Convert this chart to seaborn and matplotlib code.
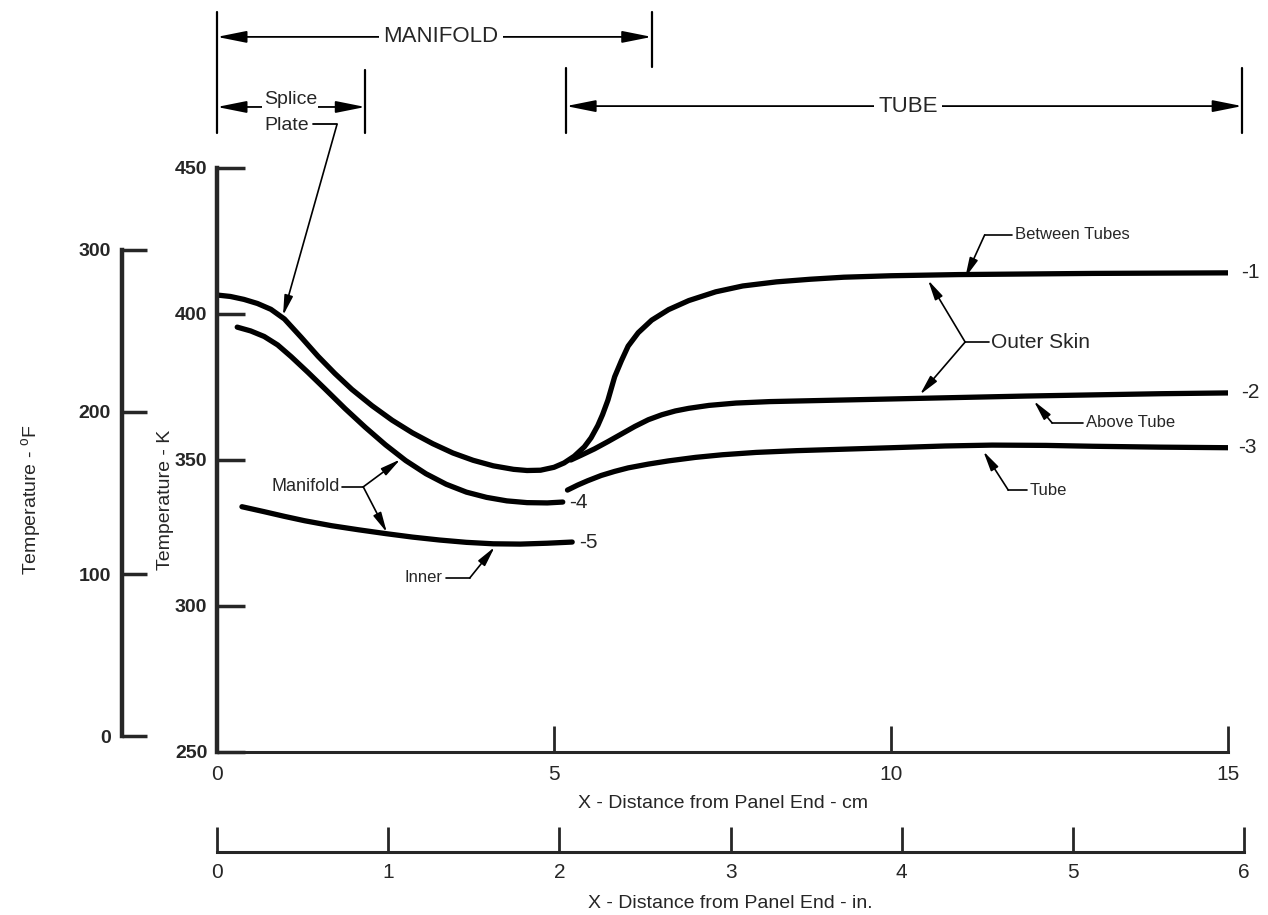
import numpy as np
import pandas as pd
import seaborn as sns
import matplotlib.pyplot as plt

# ---- curves: x in cm, temperature in K ----
x1 = [0, 0.2, 0.4, 0.6, 0.8, 1.0, 1.25, 1.5, 1.75, 2.0, 2.3, 2.6, 2.9, 3.2, 3.5, 3.8, 4.1,
      4.4, 4.6, 4.8, 5.0, 5.15, 5.3, 5.45, 5.55, 5.65, 5.72, 5.8, 5.9, 6.0, 6.1, 6.25, 6.45,
      6.7, 7.0, 7.4, 7.8, 8.3, 8.8, 9.3, 10, 11, 12, 13, 14, 15.1]
t1 = [406.5, 406.0, 405.0, 403.6, 401.6, 398.3, 392.0, 385.5, 379.6, 374.2, 368.6, 363.6,
      359.3, 355.6, 352.4, 349.9, 348.0, 346.8, 346.4, 346.5, 347.5, 349.0, 351.3, 354.5,
      357.6, 361.8, 365.5, 370.5, 378.5, 384.0, 389.0, 393.6, 397.9, 401.5, 404.6, 407.6,
      409.6, 411.0, 411.9, 412.6, 413.1, 413.5, 413.7, 413.9, 414.0, 414.1]
x2 = [5.25, 5.4, 5.6, 5.8, 6.0, 6.2, 6.4, 6.6, 6.8, 7.0, 7.3, 7.7, 8.2, 9.0, 10, 11, 12, 13,
      14, 15.1]
t2 = [350, 351.6, 353.8, 356.3, 358.9, 361.5, 363.8, 365.5, 366.8, 367.7, 368.7, 369.5,
      370.0, 370.4, 370.9, 371.4, 371.9, 372.3, 372.7, 373.0]
x3 = [5.2, 5.35, 5.5, 5.7, 5.9, 6.1, 6.4, 6.7, 7.1, 7.5, 8.0, 8.6, 9.3, 10, 10.8, 11.5, 12.3,
      13, 14, 15.05]
t3 = [339.7, 341.4, 342.9, 344.7, 346.1, 347.3, 348.6, 349.7, 350.9, 351.8, 352.6, 353.2,
      353.7, 354.2, 354.8, 355.1, 355.0, 354.7, 354.4, 354.2]
x4 = [0.3, 0.5, 0.7, 0.9, 1.1, 1.35, 1.6, 1.9, 2.2, 2.5, 2.8, 3.1, 3.4, 3.7, 4.0, 4.3, 4.6,
      4.9, 5.13]
t4 = [395.5, 394.2, 392.3, 389.4, 385.4, 380.0, 374.4, 367.6, 361.2, 355.2, 349.8, 345.3,
      341.7, 339.0, 337.2, 336.0, 335.4, 335.3, 335.6]
x5 = [0.37, 0.7, 1.0, 1.3, 1.7, 2.1, 2.5, 2.9, 3.3, 3.7, 4.1, 4.5, 4.9, 5.27]
t5 = [334.0, 332.3, 330.7, 329.2, 327.5, 326.1, 324.8, 323.6, 322.6, 321.8, 321.3, 321.2,
      321.5, 321.9]
curve_ids = ['-1', '-2', '-3', '-4', '-5']

cm_ticks = [0, 5, 10, 15]
k_ticks = [250, 300, 350, 400, 450]
f_ticks = [0, 100, 200, 300]
in_ticks = [0, 1, 2, 3, 4, 5, 6]

# dimension bars above the plot: (label, start cm, end cm, line K, label cm)
dims = [('MANIFOLD', 0, 6.45, 494.9, 3.32),
        ('Splice', 0, 2.2, 470.9, 1.09),
        ('TUBE', 5.18, 15.21, 471.2, 10.25)]

df = pd.concat([pd.DataFrame({'x_cm': x, 'temp_k': t, 'curve': c})
                for x, t, c in zip([x1, x2, x3, x4, x5], [t1, t2, t3, t4, t5], curve_ids)])


def k2f(k):
    return (k - 273.15) * 9 / 5 + 32


sns.set_style('ticks')
plt.rcParams['font.family'] = ['Liberation Sans', 'DejaVu Sans']

W, H = 1268, 915
fig = plt.figure(figsize=(W / 100, H / 100), dpi=100)
ax = fig.add_axes([217 / W, 1 - 752 / H, 1011 / W, 584 / H])

sns.lineplot(data=df, x='x_cm', y='temp_k', units='curve', estimator=None, sort=False,
             color='k', lw=3.8, ax=ax, legend=False)
for x, t, c in zip([x1, x2, x3, x4, x5], [t1, t2, t3, t4, t5], curve_ids):
    ax.text(x[-1] + 0.1, t[-1], c, fontsize=15, ha='left', va='center')

ax.set_xlim(0, 15)
ax.set_ylim(250, 450)
ax.spines[['top', 'right']].set_visible(False)
ax.spines['left'].set_linewidth(3.2)
ax.spines['bottom'].set_linewidth(2.2)
ax.set_xticks(cm_ticks)
ax.set_yticks(k_ticks)
ax.tick_params(axis='y', direction='in', length=20, width=2.5, pad=7, labelsize=14)
ax.tick_params(axis='x', direction='in', length=19, width=2, pad=9, labelsize=15)
for lbl in ax.get_yticklabels():
    lbl.set_fontweight('bold')
ax.set_xlabel('X - Distance from Panel End - cm', fontsize=14)
ax.xaxis.set_label_coords(0.5, -0.073)
ax.set_ylabel('Temperature - K', fontsize=14)
ax.yaxis.set_label_coords(-0.043, 0.4315)

# Fahrenheit scale on the far left
axf = fig.add_axes(ax.get_position())
axf.set_facecolor('none')
axf.set_ylim(k2f(250), k2f(450))
axf.spines[['top', 'right', 'bottom']].set_visible(False)
axf.spines['left'].set_position(('outward', 95 * 0.72))
axf.spines['left'].set_bounds(0, 300)
axf.spines['left'].set_linewidth(3.2)
axf.set_xticks([])
axf.set_yticks(f_ticks)
axf.tick_params(axis='y', direction='in', length=18, width=2.5, pad=8, labelsize=14)
for lbl in axf.get_yticklabels():
    lbl.set_fontweight('bold')
axf.set_ylabel('Temperature - $^\\mathregular{o}$F', fontsize=14)
axf.yaxis.set_label_coords(-0.171, 0.4315)

# inch scale below
ax_in = fig.add_axes([217 / W, 1 - 852 / H, 6 * 2.54 * 1011 / 15 / W, 0.5 / H])
ax_in.set_facecolor('none')
ax_in.set_xlim(0, 6)
ax_in.spines[['top', 'right', 'left']].set_visible(False)
ax_in.spines['bottom'].set_linewidth(2.2)
ax_in.set_yticks([])
ax_in.set_xticks(in_ticks)
ax_in.tick_params(axis='x', direction='in', length=18, width=2, pad=8, labelsize=15)
ax_in.set_xlabel('X - Distance from Panel End - in.', fontsize=14, labelpad=9)

big = dict(arrowstyle='-|>,head_length=0.9,head_width=0.18', color='k', lw=1.3,
           shrinkA=0, shrinkB=0, mutation_scale=20)
small = dict(arrowstyle='-|>,head_length=0.6,head_width=0.13', color='k', lw=1.2,
             shrinkA=0, shrinkB=0, mutation_scale=20)

# dimension bars
for label, xa, xb, yk, xl in dims:
    for xe in (xa, xb):
        ax.annotate('', xy=(xe, yk), xytext=(xl, yk), arrowprops=big, annotation_clip=False)
    splice = label == 'Splice'
    ax.text(xl, yk + (2.4 if splice else 0), label, ha='center', va='center',
            fontsize=14 if splice else 16, zorder=5,
            bbox=dict(fc='white', ec='none', pad=1 if splice else 3))
for xv, y0, y1 in [(0, 462, 503.4), (6.45, 484.6, 503.4), (2.2, 462, 483.6),
                   (5.18, 462, 484.2), (15.21, 462, 484.2)]:
    ax.plot([xv, xv], [y0, y1], color='k', lw=1.6, clip_on=False)

ax.text(1.04, 464.6, 'Plate', ha='center', va='center', fontsize=14)
ax.plot([1.42, 1.78], [464.9, 464.9], color='k', lw=1.3, clip_on=False)
ax.annotate('', xy=(0.98, 399.5), xytext=(1.78, 464.9), arrowprops=small, annotation_clip=False)


def leader(label, tx, ty, ha, dash_x, joint, tips, fs=13):
    ax.text(tx, ty, label, ha=ha, va='center', fontsize=fs)
    ax.plot([dash_x, joint[0]], [ty, ty], color='k', lw=1.2)
    for tip in tips:
        ax.annotate('', xy=tip, xytext=joint, arrowprops=small)


leader('Manifold', 1.82, 340.8, 'right', 1.85, (2.17, 340.8), [(2.72, 350.2), (2.52, 325.2)])
leader('Inner', 3.34, 309.6, 'right', 3.4, (3.75, 309.6), [(4.12, 320.2)], fs=12)
leader('Between Tubes', 11.84, 427.1, 'left', 11.8, (11.39, 427.1), [(11.1, 412.4)], fs=12)
leader('Outer Skin', 11.48, 390.4, 'left', 11.45, (11.1, 390.4), [(10.55, 411.6), (10.43, 372.4)], fs=15)
leader('Above Tube', 12.89, 362.7, 'left', 12.85, (12.39, 362.7), [(12.12, 370.2)], fs=12)
leader('Tube', 12.06, 339.7, 'left', 12.02, (11.74, 339.7), [(11.37, 353.0)], fs=12)

fig.savefig('out.png', dpi=100)
